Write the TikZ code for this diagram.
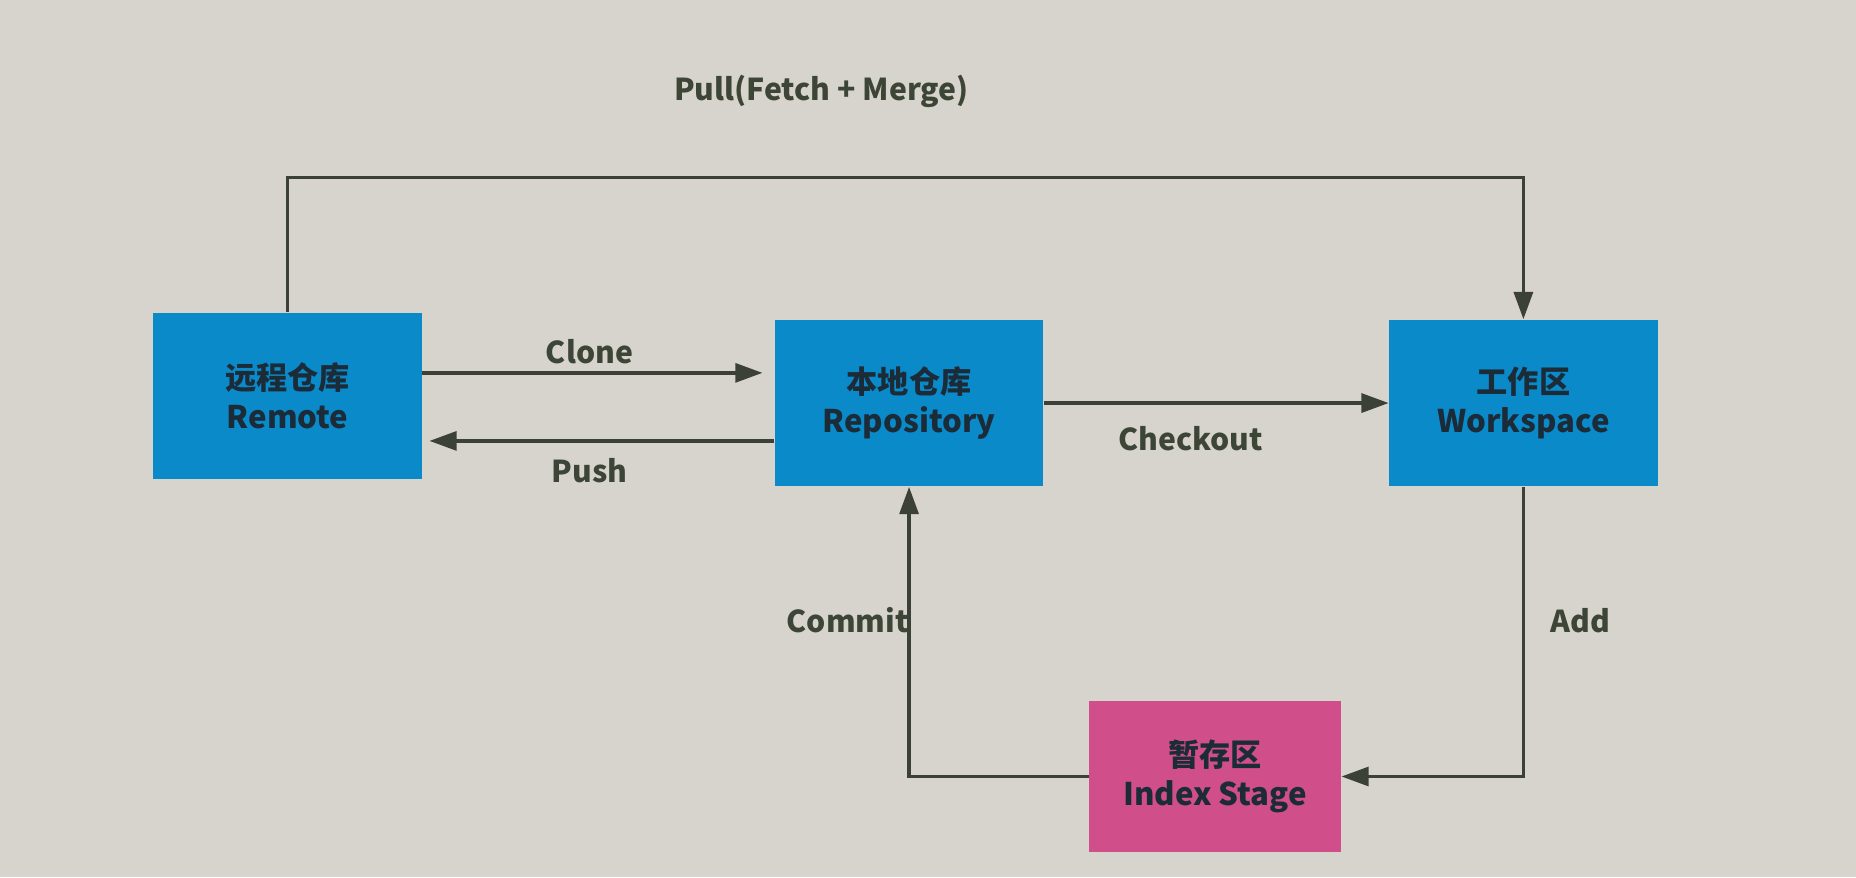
\documentclass[tikz,border=0pt]{standalone}
\usepackage{fontspec}
\setmainfont{Noto Sans CJK SC}
\usetikzlibrary{arrows.meta}
\definecolor{bgcol}{HTML}{D6D4CC}
\definecolor{boxblue}{HTML}{0A8AC8}
\definecolor{boxpink}{HTML}{D04E8A}
\definecolor{linecol}{HTML}{3B4136}
\definecolor{boxtext}{HTML}{1C2B38}
\definecolor{labeltext}{HTML}{3D4636}
\tikzset{
	box/.style={minimum width=45.4mm, minimum height=28.2mm, align=center, inner sep=0pt, text=boxtext, font=\fontsize{15}{19}\selectfont\bfseries},
	lab/.style={text=labeltext, font=\fontsize{14.5}{17}\selectfont\bfseries},
	flow/.style={draw=linecol, line width=1.6pt, -{Triangle[length=4.6mm, width=3.2mm]}}
}
\begin{document}
\begin{tikzpicture}[x=0.02cm, y=-0.02cm]
					
					\fill[bgcol] (0,0) rectangle (1568,741);
					\useasboundingbox (0,0) rectangle (1568,741);
					
					\node[box, fill=boxblue] (remote) at (243,334.5){远程仓库\\Remote};
					\node[box, fill=boxblue] (repo) at (768,340.5){本地仓库\\Repository};
					\node[box, fill=boxblue] (ws) at (1287,340.5){工作区\\Workspace};
					\node[box, fill=boxpink, minimum width=42.6mm, minimum height=25.6mm] (index) at (1026.5,656){暂存区\\Index Stage};
					\coordinate (pulltop) at (243,150);
					
					\draw[flow] (remote.north) -- (pulltop) -| (ws.north);
					\draw[flow, shorten >=2mm] ([yshift=3.9mm]remote.east) -- ([yshift=3.9mm]remote.east -| repo.west);
					\draw[flow, shorten >=1.2mm] ([yshift=-6.4mm]repo.west) -- ([yshift=-6.4mm]repo.west -| remote.east);
					\draw[flow] (repo.east) -- (ws.west);
					\draw[flow] (ws.south) |- (index.east);
					\draw[flow] (index.west) -| (repo.south);
					
					\node[lab] (pull) at (694,77){Pull(Fetch + Merge)};
					\node[lab] (clone) at (498,297){Clone};
					\node[lab] (push) at (498,398){Push};
					\node[lab] (checkout) at (1006,371){Checkout};
					\node[lab] (add) at (1335,524){Add};
					\node[lab, anchor=east, inner sep=0pt] (commit) at (768,524){Commit};
					
					\end{tikzpicture}
\end{document}
